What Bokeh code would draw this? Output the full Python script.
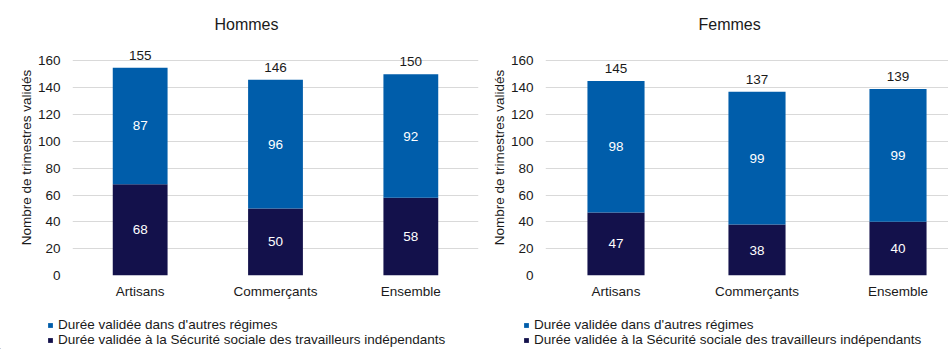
from bokeh.plotting import figure
from bokeh.models import (Range1d, FixedTicker, ColumnDataSource, Legend, LegendItem, Title)
from bokeh.layouts import row, column
from bokeh.core.properties import value
from bokeh.embed import file_html
from bokeh.resources import INLINE

categories = ["Artisans", "Commerçants", "Ensemble"]
hommes_ssti = [68, 50, 58]
hommes_autres = [87, 96, 92]
femmes_ssti = [47, 38, 40]
femmes_autres = [98, 99, 99]
y_ticks = [0, 20, 40, 60, 80, 100, 120, 140, 160]
legend_labels = ["Durée validée dans d'autres régimes",
                 "Durée validée à la Sécurité sociale des travailleurs indépendants"]

FONT = "Liberation Sans"
BLUE = "#005DAA"
NAVY = "#13114B"
TEXT = "#1A1A1A"
GRID = "#D9D9D9"


def make_panel(title, ssti, autres, width, height, border_left, border_right,
               border_top, border_bottom, x_end, title_offset):
    x = [i + 0.5 for i in range(len(categories))]
    total = [a + b for a, b in zip(ssti, autres)]
    src = ColumnDataSource(dict(
        x=x, ssti=ssti, autres=autres, total=total,
        mid_ssti=[s / 2 for s in ssti],
        mid_autres=[s + a / 2 for s, a in zip(ssti, autres)],
        lab_ssti=[str(v) for v in ssti],
        lab_autres=[str(v) for v in autres],
        lab_total=[str(v) for v in total],
    ))
    p = figure(width=width, height=height, output_backend="svg", toolbar_location=None,
               x_range=Range1d(0, x_end), y_range=Range1d(0, 176),
               min_border_left=border_left, min_border_right=border_right,
               min_border_top=border_top, min_border_bottom=border_bottom)
    p.outline_line_color = None
    p.background_fill_color = "white"
    p.border_fill_color = "white"

    t = Title(text=title, align="left", offset=title_offset, standoff=13,
              text_font=FONT, text_font_size="16px", text_font_style="normal",
              text_color=TEXT)
    p.add_layout(t, "above")

    p.vbar(x="x", bottom=0, top="ssti", width=0.405, source=src,
           fill_color=NAVY, line_color=None)
    p.vbar(x="x", bottom="ssti", top="total", width=0.405, source=src,
           fill_color=BLUE, line_color=None)

    p.text(x="x", y="mid_ssti", text="lab_ssti", source=src, text_align="center",
           text_baseline="middle", text_color="white", text_font=value(FONT),
           text_font_size="13.5px")
    p.text(x="x", y="mid_autres", text="lab_autres", source=src, text_align="center",
           text_baseline="middle", text_color="white", text_font=value(FONT),
           text_font_size="13.5px")
    p.text(x="x", y="total", text="lab_total", source=src, text_align="center",
           text_baseline="bottom", y_offset=-8, text_color=TEXT, text_font=value(FONT),
           text_font_size="13.5px")

    p.xgrid.visible = False
    p.ygrid.ticker = FixedTicker(ticks=y_ticks)
    p.ygrid.grid_line_color = GRID
    p.ygrid.grid_line_width = 1

    p.xaxis.ticker = FixedTicker(ticks=x)
    p.xaxis.major_label_overrides = {xx: c for xx, c in zip(x, categories)}
    p.yaxis.ticker = FixedTicker(ticks=y_ticks)
    for ax in (p.xaxis[0], p.yaxis[0]):
        ax.axis_line_color = None
        ax.major_tick_line_color = None
        ax.minor_tick_line_color = None
        ax.major_tick_out = 0
        ax.major_tick_in = 0
        ax.minor_tick_out = 0
        ax.major_label_text_font = FONT
        ax.major_label_text_font_size = "13.5px"
        ax.major_label_text_color = TEXT
    p.xaxis.major_label_standoff = 8
    p.yaxis.major_label_standoff = 12
    p.yaxis.axis_label = "Nombre de trimestres validés"
    p.yaxis.axis_label_text_font = FONT
    p.yaxis.axis_label_text_font_size = "13.5px"
    p.yaxis.axis_label_text_font_style = "normal"
    p.yaxis.axis_label_text_color = TEXT
    p.yaxis.axis_label_standoff = 1
    return p


p1 = make_panel("Hommes", hommes_ssti, hommes_autres, 480, 318, 72, 2, 39, 43,
                3, 142)
p2 = make_panel("Femmes", femmes_ssti, femmes_autres, 468, 318, 65, 0, 38, 42,
                403 / 141, 153)

# legend strip: the two renderers only carry the legend styling; their single
# placeholder point lies outside the visible range
lg = figure(width=948, height=31, output_backend="svg", toolbar_location=None,
            x_range=Range1d(0, 948), y_range=Range1d(0, 31),
            min_border=0, min_border_left=0, min_border_right=0,
            min_border_top=0, min_border_bottom=0)
lg.axis.visible = False
lg.grid.visible = False
lg.outline_line_color = None
off_src = ColumnDataSource(dict(x=[-1000.0], bottom=[0.0], top=[1.0]))
ra = lg.vbar(x="x", bottom="bottom", top="top", width=1, source=off_src,
             fill_color=BLUE, line_color=None)
rs = lg.vbar(x="x", bottom="bottom", top="top", width=1, source=off_src,
             fill_color=NAVY, line_color=None)
for loc in [(47, 2), (523, 2)]:
    legend = Legend(items=[LegendItem(label=legend_labels[0], renderers=[ra]),
                           LegendItem(label=legend_labels[1], renderers=[rs])],
                    location=loc, orientation="vertical",
                    background_fill_alpha=0, border_line_color=None,
                    padding=0, margin=0, spacing=0, label_height=13,
                    glyph_width=6, glyph_height=6, label_standoff=5,
                    label_text_font=FONT, label_text_font_size="13.5px",
                    label_text_color=TEXT)
    lg.add_layout(legend, "center")

layout = column(row(p1, p2), lg)
open("out.html", "w").write(file_html(layout, INLINE))
